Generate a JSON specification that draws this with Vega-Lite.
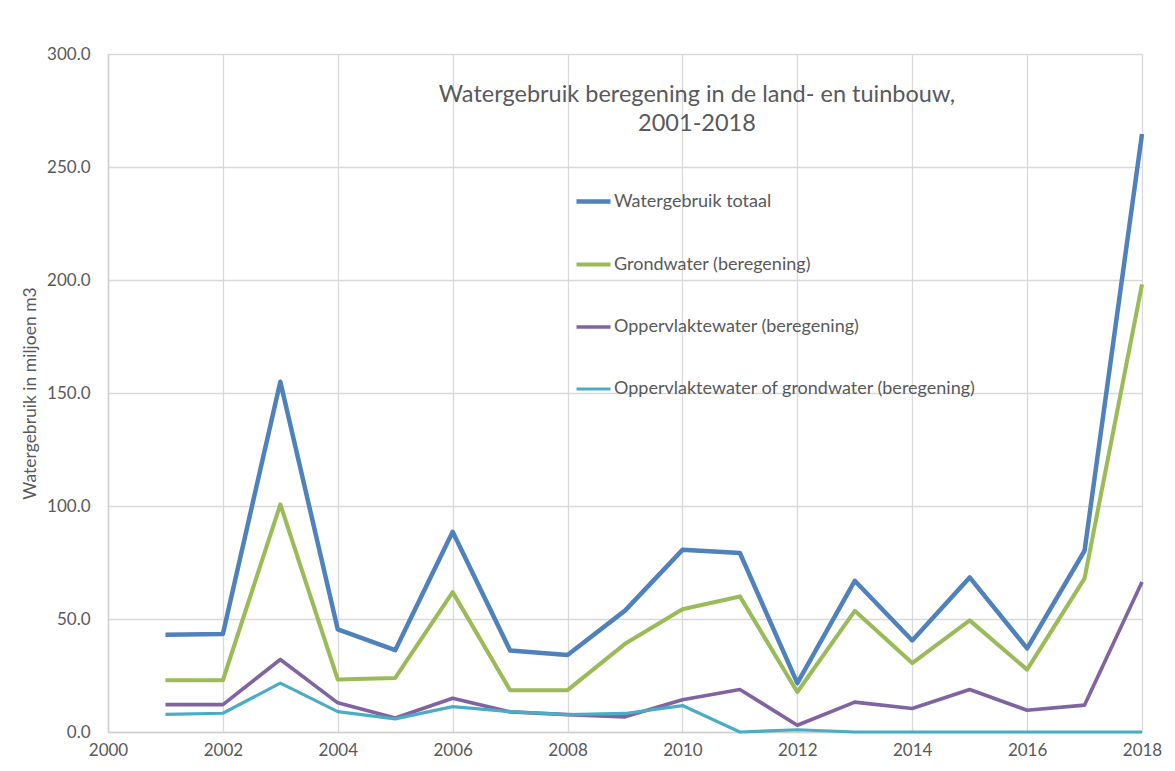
{
  "$schema": "https://vega.github.io/schema/vega-lite/v6.json",
  "width": 1034,
  "height": 678,
  "autosize": {"type": "none"},
  "padding": {"left": 108, "top": 54, "right": 33, "bottom": 39},
  "background": "#ffffff",
  "title": {
    "text": ["Watergebruik beregening in de land- en tuinbouw,", "2001-2018"],
    "anchor": "middle",
    "dx": 72,
    "dy": 94,
    "font": "Lato",
    "fontSize": 23.5,
    "fontWeight": "normal",
    "color": "#595959",
    "lineHeight": 29
  },
  "config": {
    "view": {"stroke": null},
    "font": "Lato",
    "axis": {
      "labelFont": "Lato",
      "labelFontSize": 17,
      "labelColor": "#595959",
      "titleFont": "Lato",
      "titleFontSize": 17.5,
      "titleFontWeight": "normal",
      "titleColor": "#595959",
      "gridColor": "#d9d9d9",
      "gridWidth": 1.3,
      "domainColor": "#d0d0d0",
      "domainWidth": 1.5,
      "ticks": false
    },
    "legend": {
      "labelFont": "Lato",
      "labelFontSize": 18,
      "labelColor": "#595959"
    }
  },
  "data": {
    "values": [
      {"year": 2001, "series": "Watergebruik totaal", "value": 43.0},
      {"year": 2002, "series": "Watergebruik totaal", "value": 43.4},
      {"year": 2003, "series": "Watergebruik totaal", "value": 155.0},
      {"year": 2004, "series": "Watergebruik totaal", "value": 45.4},
      {"year": 2005, "series": "Watergebruik totaal", "value": 36.2},
      {"year": 2006, "series": "Watergebruik totaal", "value": 88.6},
      {"year": 2007, "series": "Watergebruik totaal", "value": 36.1},
      {"year": 2008, "series": "Watergebruik totaal", "value": 34.1},
      {"year": 2009, "series": "Watergebruik totaal", "value": 53.7},
      {"year": 2010, "series": "Watergebruik totaal", "value": 80.6},
      {"year": 2011, "series": "Watergebruik totaal", "value": 79.2},
      {"year": 2012, "series": "Watergebruik totaal", "value": 21.6},
      {"year": 2013, "series": "Watergebruik totaal", "value": 66.9},
      {"year": 2014, "series": "Watergebruik totaal", "value": 40.5},
      {"year": 2015, "series": "Watergebruik totaal", "value": 68.4},
      {"year": 2016, "series": "Watergebruik totaal", "value": 37.0},
      {"year": 2017, "series": "Watergebruik totaal", "value": 80.2},
      {"year": 2018, "series": "Watergebruik totaal", "value": 264.6},
      {"year": 2001, "series": "Grondwater (beregening)", "value": 22.9},
      {"year": 2002, "series": "Grondwater (beregening)", "value": 22.9},
      {"year": 2003, "series": "Grondwater (beregening)", "value": 100.7},
      {"year": 2004, "series": "Grondwater (beregening)", "value": 23.2},
      {"year": 2005, "series": "Grondwater (beregening)", "value": 23.9},
      {"year": 2006, "series": "Grondwater (beregening)", "value": 61.9},
      {"year": 2007, "series": "Grondwater (beregening)", "value": 18.5},
      {"year": 2008, "series": "Grondwater (beregening)", "value": 18.5},
      {"year": 2009, "series": "Grondwater (beregening)", "value": 39.0},
      {"year": 2010, "series": "Grondwater (beregening)", "value": 54.3},
      {"year": 2011, "series": "Grondwater (beregening)", "value": 60.0},
      {"year": 2012, "series": "Grondwater (beregening)", "value": 17.7},
      {"year": 2013, "series": "Grondwater (beregening)", "value": 53.6},
      {"year": 2014, "series": "Grondwater (beregening)", "value": 30.5},
      {"year": 2015, "series": "Grondwater (beregening)", "value": 49.4},
      {"year": 2016, "series": "Grondwater (beregening)", "value": 27.6},
      {"year": 2017, "series": "Grondwater (beregening)", "value": 68.0},
      {"year": 2018, "series": "Grondwater (beregening)", "value": 198.1},
      {"year": 2001, "series": "Oppervlaktewater (beregening)", "value": 12.1},
      {"year": 2002, "series": "Oppervlaktewater (beregening)", "value": 12.1},
      {"year": 2003, "series": "Oppervlaktewater (beregening)", "value": 32.1},
      {"year": 2004, "series": "Oppervlaktewater (beregening)", "value": 12.9},
      {"year": 2005, "series": "Oppervlaktewater (beregening)", "value": 6.2},
      {"year": 2006, "series": "Oppervlaktewater (beregening)", "value": 14.9},
      {"year": 2007, "series": "Oppervlaktewater (beregening)", "value": 8.9},
      {"year": 2008, "series": "Oppervlaktewater (beregening)", "value": 7.7},
      {"year": 2009, "series": "Oppervlaktewater (beregening)", "value": 6.7},
      {"year": 2010, "series": "Oppervlaktewater (beregening)", "value": 14.3},
      {"year": 2011, "series": "Oppervlaktewater (beregening)", "value": 18.8},
      {"year": 2012, "series": "Oppervlaktewater (beregening)", "value": 3.0},
      {"year": 2013, "series": "Oppervlaktewater (beregening)", "value": 13.2},
      {"year": 2014, "series": "Oppervlaktewater (beregening)", "value": 10.4},
      {"year": 2015, "series": "Oppervlaktewater (beregening)", "value": 18.8},
      {"year": 2016, "series": "Oppervlaktewater (beregening)", "value": 9.6},
      {"year": 2017, "series": "Oppervlaktewater (beregening)", "value": 11.9},
      {"year": 2018, "series": "Oppervlaktewater (beregening)", "value": 66.4},
      {"year": 2001, "series": "Oppervlaktewater of grondwater (beregening)", "value": 7.8},
      {"year": 2002, "series": "Oppervlaktewater of grondwater (beregening)", "value": 8.3},
      {"year": 2003, "series": "Oppervlaktewater of grondwater (beregening)", "value": 21.6},
      {"year": 2004, "series": "Oppervlaktewater of grondwater (beregening)", "value": 9.0},
      {"year": 2005, "series": "Oppervlaktewater of grondwater (beregening)", "value": 5.8},
      {"year": 2006, "series": "Oppervlaktewater of grondwater (beregening)", "value": 11.2},
      {"year": 2007, "series": "Oppervlaktewater of grondwater (beregening)", "value": 9.0},
      {"year": 2008, "series": "Oppervlaktewater of grondwater (beregening)", "value": 7.7},
      {"year": 2009, "series": "Oppervlaktewater of grondwater (beregening)", "value": 8.2},
      {"year": 2010, "series": "Oppervlaktewater of grondwater (beregening)", "value": 11.7},
      {"year": 2011, "series": "Oppervlaktewater of grondwater (beregening)", "value": 0.0},
      {"year": 2012, "series": "Oppervlaktewater of grondwater (beregening)", "value": 1.0},
      {"year": 2013, "series": "Oppervlaktewater of grondwater (beregening)", "value": 0.0},
      {"year": 2014, "series": "Oppervlaktewater of grondwater (beregening)", "value": 0.0},
      {"year": 2015, "series": "Oppervlaktewater of grondwater (beregening)", "value": 0.0},
      {"year": 2016, "series": "Oppervlaktewater of grondwater (beregening)", "value": 0.0},
      {"year": 2017, "series": "Oppervlaktewater of grondwater (beregening)", "value": 0.0},
      {"year": 2018, "series": "Oppervlaktewater of grondwater (beregening)", "value": 0.0}
    ]
  },
  "mark": {"type": "line", "strokeJoin": "round", "clip": false},
  "encoding": {
    "x": {
      "field": "year",
      "type": "quantitative",
      "scale": {"domain": [2000, 2018], "nice": false, "zero": false},
      "axis": {
        "title": null,
        "values": [2000, 2002, 2004, 2006, 2008, 2010, 2012, 2014, 2016, 2018],
        "format": "d",
        "labelPadding": 10,
        "labelFlush": false,
        "labelOverlap": false
      }
    },
    "y": {
      "field": "value",
      "type": "quantitative",
      "scale": {"domain": [0, 300], "nice": false},
      "axis": {
        "title": "Watergebruik in miljoen m3",
        "values": [0, 50, 100, 150, 200, 250, 300],
        "format": ".1f",
        "labelPadding": 18,
        "titlePadding": 7,
        "domain": true,
        "labelOverlap": false
      }
    },
    "color": {
      "field": "series",
      "type": "nominal",
      "scale": {
        "domain": ["Watergebruik totaal", "Grondwater (beregening)", "Oppervlaktewater (beregening)", "Oppervlaktewater of grondwater (beregening)"],
        "range": ["#4f81bd", "#9bbb59", "#8064a2", "#4bacc6"]
      },
      "legend": {
        "title": null,
        "orient": "none",
        "legendX": 466,
        "legendY": 128,
        "symbolType": "stroke",
        "symbolSize": 1156,
        "symbolStrokeWidth": 3.5,
        "labelOffset": 1,
        "rowPadding": 34,
        "labelLimit": 600
      }
    },
    "strokeWidth": {
      "field": "series",
      "type": "nominal",
      "scale": {
        "domain": ["Watergebruik totaal", "Grondwater (beregening)", "Oppervlaktewater (beregening)", "Oppervlaktewater of grondwater (beregening)"],
        "range": [4.5, 3.2, 3.2, 3.2]
      },
      "legend": null
    }
  }
}
